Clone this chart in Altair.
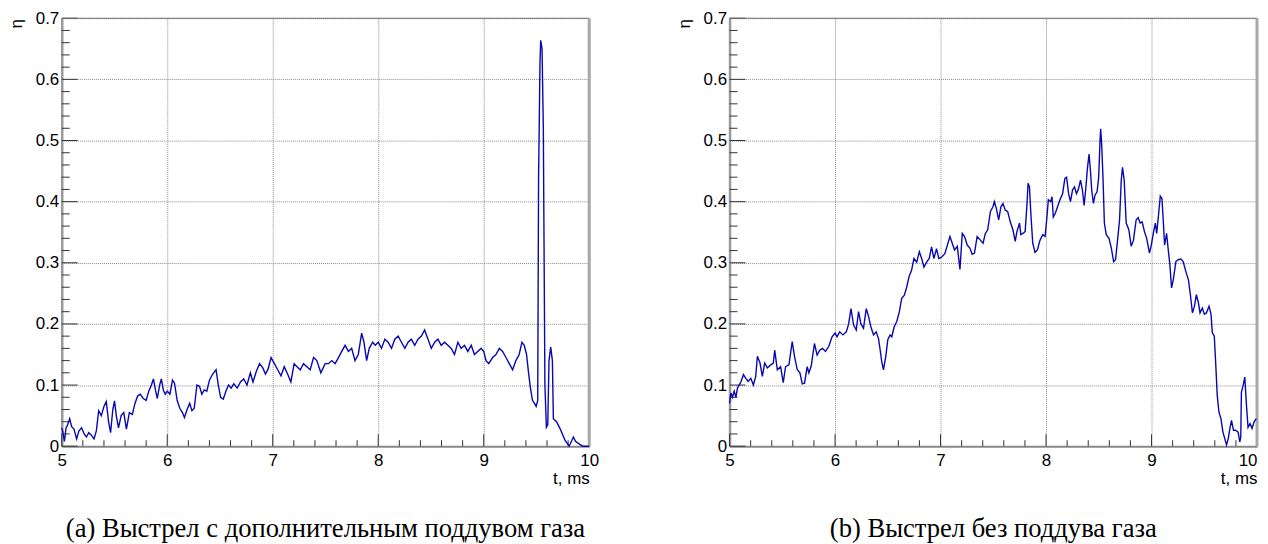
import altair as alt
import pandas as pd

# ---- data ----
# (a) shot with additional gas puff
t_a = [5.000, 5.009, 5.025, 5.041, 5.056, 5.075, 5.094, 5.116, 5.141, 5.163,
       5.188, 5.213, 5.234, 5.256, 5.281, 5.306, 5.328, 5.350, 5.375, 5.400,
       5.422, 5.444, 5.463, 5.484, 5.500, 5.519, 5.538, 5.563, 5.588, 5.613,
       5.641, 5.669, 5.694, 5.719, 5.744, 5.772, 5.800, 5.825, 5.850, 5.869,
       5.888, 5.906, 5.928, 5.944, 5.963, 5.981, 6.000, 6.025, 6.050, 6.069,
       6.094, 6.119, 6.144, 6.163, 6.188, 6.213, 6.234, 6.256, 6.281, 6.306,
       6.328, 6.350, 6.375, 6.400, 6.431, 6.463, 6.484, 6.506, 6.531, 6.556,
       6.581, 6.606, 6.631, 6.663, 6.694, 6.725, 6.756, 6.788, 6.813, 6.844,
       6.875, 6.906, 6.931, 6.956, 6.984, 7.016, 7.047, 7.078, 7.109, 7.141,
       7.172, 7.203, 7.230, 7.261, 7.292, 7.324, 7.355, 7.387, 7.418, 7.456,
       7.497, 7.528, 7.560, 7.591, 7.623, 7.654, 7.686, 7.717, 7.748, 7.780,
       7.811, 7.843, 7.865, 7.890, 7.915, 7.947, 7.972, 8.000, 8.031, 8.063,
       8.094, 8.126, 8.157, 8.189, 8.220, 8.252, 8.283, 8.314, 8.346, 8.377,
       8.409, 8.440, 8.472, 8.503, 8.535, 8.566, 8.597, 8.629, 8.660, 8.692,
       8.723, 8.755, 8.786, 8.818, 8.849, 8.881, 8.912, 8.943, 8.975, 9.000,
       9.022, 9.047, 9.085, 9.116, 9.148, 9.179, 9.211, 9.242, 9.274, 9.305,
       9.336, 9.362, 9.384, 9.406, 9.425, 9.443, 9.462, 9.481, 9.497, 9.512,
       9.520, 9.527, 9.533, 9.540, 9.547, 9.553, 9.558, 9.565, 9.580, 9.594,
       9.607, 9.619, 9.635, 9.651, 9.660, 9.690, 9.720, 9.770, 9.810, 9.850,
       9.870, 9.910, 9.940, 10.000]
eta_a = [0.030, 0.025, 0.008, 0.030, 0.035, 0.045, 0.032, 0.028, 0.012, 0.025,
         0.030, 0.020, 0.015, 0.022, 0.018, 0.012, 0.025, 0.058, 0.050, 0.065,
         0.073, 0.040, 0.022, 0.060, 0.074, 0.048, 0.030, 0.050, 0.055, 0.028,
         0.055, 0.052, 0.070, 0.082, 0.085, 0.078, 0.075, 0.090, 0.100, 0.110,
         0.092, 0.078, 0.100, 0.110, 0.092, 0.085, 0.090, 0.085, 0.108, 0.103,
         0.075, 0.062, 0.055, 0.047, 0.060, 0.070, 0.058, 0.062, 0.100, 0.098,
         0.085, 0.092, 0.090, 0.108, 0.118, 0.125, 0.100, 0.080, 0.077, 0.090,
         0.100, 0.095, 0.102, 0.095, 0.105, 0.110, 0.100, 0.120, 0.105, 0.122,
         0.135, 0.128, 0.118, 0.126, 0.145, 0.135, 0.125, 0.115, 0.130, 0.118,
         0.105, 0.135, 0.130, 0.125, 0.135, 0.130, 0.125, 0.145, 0.140, 0.120,
         0.135, 0.135, 0.140, 0.135, 0.145, 0.155, 0.165, 0.155, 0.160, 0.140,
         0.150, 0.185, 0.170, 0.140, 0.160, 0.170, 0.165, 0.170, 0.160, 0.175,
         0.170, 0.160, 0.175, 0.180, 0.170, 0.160, 0.170, 0.175, 0.165, 0.175,
         0.180, 0.190, 0.175, 0.160, 0.170, 0.175, 0.165, 0.170, 0.165, 0.160,
         0.150, 0.170, 0.160, 0.165, 0.155, 0.165, 0.150, 0.155, 0.160, 0.155,
         0.140, 0.135, 0.145, 0.150, 0.160, 0.155, 0.145, 0.135, 0.125, 0.140,
         0.150, 0.170, 0.165, 0.150, 0.120, 0.095, 0.075, 0.070, 0.065, 0.075,
         0.440, 0.535, 0.625, 0.664, 0.657, 0.650, 0.596, 0.520, 0.100, 0.031,
         0.035, 0.140, 0.162, 0.140, 0.045, 0.040, 0.030, 0.010, 0.000, 0.015,
         0.008, 0.003, 0.000, 0.000]

# (b) shot without gas puff
t_b = [5.000, 5.013, 5.028, 5.044, 5.060, 5.075, 5.107, 5.132, 5.154, 5.176,
       5.201, 5.226, 5.248, 5.264, 5.289, 5.311, 5.333, 5.358, 5.390, 5.415,
       5.428, 5.453, 5.484, 5.509, 5.531, 5.563, 5.594, 5.616, 5.642, 5.667,
       5.689, 5.711, 5.736, 5.752, 5.774, 5.805, 5.830, 5.855, 5.881, 5.909,
       5.940, 5.972, 6.000, 6.019, 6.044, 6.075, 6.107, 6.129, 6.151, 6.176,
       6.201, 6.223, 6.245, 6.270, 6.296, 6.318, 6.340, 6.365, 6.390, 6.412,
       6.428, 6.443, 6.459, 6.481, 6.500, 6.522, 6.538, 6.560, 6.585, 6.610,
       6.632, 6.657, 6.679, 6.701, 6.726, 6.748, 6.774, 6.799, 6.821, 6.843,
       6.868, 6.893, 6.915, 6.937, 6.962, 6.984, 7.009, 7.041, 7.089, 7.111,
       7.133, 7.159, 7.184, 7.206, 7.228, 7.253, 7.278, 7.300, 7.322, 7.347,
       7.378, 7.403, 7.425, 7.447, 7.473, 7.498, 7.510, 7.529, 7.551, 7.573,
       7.592, 7.614, 7.636, 7.661, 7.686, 7.708, 7.724, 7.749, 7.761, 7.780,
       7.802, 7.818, 7.830, 7.843, 7.856, 7.874, 7.896, 7.918, 7.943, 7.969,
       7.991, 8.006, 8.022, 8.044, 8.057, 8.069, 8.088, 8.110, 8.132, 8.157,
       8.179, 8.195, 8.214, 8.232, 8.251, 8.270, 8.289, 8.308, 8.327, 8.345,
       8.361, 8.377, 8.392, 8.408, 8.421, 8.433, 8.449, 8.465, 8.484, 8.499,
       8.512, 8.518, 8.527, 8.540, 8.553, 8.571, 8.597, 8.619, 8.641, 8.659,
       8.678, 8.697, 8.713, 8.725, 8.741, 8.760, 8.785, 8.807, 8.829, 8.854,
       8.873, 8.892, 8.911, 8.933, 8.954, 8.980, 8.998, 9.017, 9.036, 9.049,
       9.068, 9.083, 9.099, 9.111, 9.124, 9.143, 9.155, 9.174, 9.190, 9.206,
       9.231, 9.253, 9.278, 9.300, 9.325, 9.350, 9.366, 9.388, 9.407, 9.425,
       9.444, 9.460, 9.482, 9.501, 9.520, 9.545, 9.564, 9.576, 9.595, 9.608,
       9.623, 9.639, 9.658, 9.677, 9.695, 9.711, 9.727, 9.743, 9.758, 9.777,
       9.796, 9.821, 9.837, 9.846, 9.852, 9.868, 9.884, 9.900, 9.915, 9.934,
       9.953, 9.972, 9.994]
eta_b = [0.070, 0.087, 0.080, 0.090, 0.080, 0.095, 0.105, 0.117, 0.111, 0.106,
         0.111, 0.100, 0.114, 0.147, 0.136, 0.114, 0.136, 0.128, 0.133, 0.136,
         0.157, 0.125, 0.130, 0.104, 0.130, 0.133, 0.171, 0.147, 0.125, 0.120,
         0.102, 0.103, 0.130, 0.120, 0.131, 0.168, 0.149, 0.157, 0.160, 0.155,
         0.163, 0.179, 0.185, 0.179, 0.187, 0.182, 0.187, 0.200, 0.225, 0.198,
         0.190, 0.220, 0.200, 0.193, 0.225, 0.212, 0.195, 0.182, 0.187, 0.176,
         0.157, 0.138, 0.125, 0.147, 0.174, 0.182, 0.179, 0.195, 0.204, 0.220,
         0.242, 0.247, 0.260, 0.277, 0.288, 0.307, 0.301, 0.318, 0.307, 0.293,
         0.301, 0.307, 0.326, 0.307, 0.323, 0.307, 0.309, 0.315, 0.343, 0.332,
         0.321, 0.327, 0.289, 0.348, 0.343, 0.329, 0.324, 0.314, 0.316, 0.343,
         0.337, 0.332, 0.348, 0.354, 0.384, 0.392, 0.400, 0.389, 0.370, 0.392,
         0.397, 0.386, 0.384, 0.367, 0.354, 0.335, 0.351, 0.365, 0.346, 0.348,
         0.351, 0.392, 0.430, 0.424, 0.381, 0.332, 0.317, 0.321, 0.337, 0.346,
         0.343, 0.370, 0.403, 0.400, 0.408, 0.375, 0.381, 0.392, 0.403, 0.413,
         0.438, 0.440, 0.413, 0.400, 0.419, 0.424, 0.413, 0.421, 0.435, 0.419,
         0.394, 0.421, 0.454, 0.478, 0.451, 0.419, 0.397, 0.411, 0.416, 0.440,
         0.500, 0.519, 0.495, 0.440, 0.365, 0.346, 0.340, 0.324, 0.302, 0.305,
         0.337, 0.370, 0.435, 0.456, 0.435, 0.365, 0.354, 0.327, 0.337, 0.370,
         0.374, 0.365, 0.367, 0.351, 0.340, 0.316, 0.329, 0.348, 0.365, 0.348,
         0.381, 0.409, 0.405, 0.370, 0.329, 0.348, 0.327, 0.297, 0.259, 0.272,
         0.302, 0.305, 0.306, 0.302, 0.286, 0.272, 0.251, 0.218, 0.229, 0.248,
         0.235, 0.218, 0.226, 0.216, 0.218, 0.229, 0.216, 0.186, 0.180, 0.137,
         0.083, 0.056, 0.045, 0.023, 0.012, 0.002, 0.012, 0.029, 0.042, 0.026,
         0.026, 0.023, 0.007, 0.015, 0.088, 0.099, 0.113, 0.067, 0.031, 0.037,
         0.029, 0.040, 0.045]

captions = ["(a) Выстрел с дополнительным поддувом газа",
            "(b) Выстрел без поддува газа"]

x_major = [5, 6, 7, 8, 9, 10]
y_major = [0, 0.1, 0.2, 0.3, 0.4, 0.5, 0.6, 0.7]
x_minor = [round(5 + 0.2 * i, 2) for i in range(26) if i % 5 != 0]
y_minor = [round(0.02 * i, 2) for i in range(36) if i % 5 != 0]

W, H = 530, 430
FONT = "Liberation Sans"
LINE = "#0808b0"


def panel(t, eta, caption, last_panel=False):
    xs = alt.Scale(domain=[5, 10], nice=False, zero=False)
    ys = alt.Scale(domain=[0, 0.7], nice=False)
    extra = {}
    if last_panel:
        extra = dict(
            labelAlign={"condition": {"test": "datum.value == 10", "value": "right"},
                        "value": "center"},
        )
    xaxis = alt.Axis(values=x_major, format="d", grid=True, gridColor="#8a8a8a",
                     gridDash=[1, 1], gridWidth=1, ticks=False,
                     domainColor="#8a8a8a", domainWidth=2,
                     labelFont=FONT, labelFontSize=17, labelColor="black",
                     labelPadding=6, labelFlush=False, labelOverlap=False,
                     title="t, ms", titleFont=FONT, titleFontSize=17,
                     titleFontWeight="normal", titleColor="black",
                     titleX=W, titleY=37, titleAlign="right",
                     titleBaseline="alphabetic", **extra)
    yaxis = alt.Axis(values=y_major, format="~g", grid=True, gridColor="#8a8a8a",
                     gridDash=[1, 1], gridWidth=1, ticks=False,
                     domainColor="#9a9a9a", domainWidth=2.5,
                     labelFont=FONT, labelFontSize=17, labelColor="black",
                     labelPadding=3, labelFlush=False, labelOverlap=False,
                     title="η", titleFont=FONT, titleFontSize=17,
                     titleFontWeight="normal", titleColor="black",
                     titleAngle=270, titleX=-45, titleY=5, titleAlign="center",
                     titleBaseline="middle")
    df = pd.DataFrame({"t": t, "eta": eta})
    line = alt.Chart(df).mark_line(color=LINE, strokeWidth=1.4).encode(
        x=alt.X("t:Q", scale=xs, axis=xaxis),
        y=alt.Y("eta:Q", scale=ys, axis=yaxis),
    )
    xmaj = alt.Chart(pd.DataFrame({"t": x_major})).mark_rule(
        color="#333333", strokeWidth=1).encode(
        x=alt.X("t:Q", scale=xs, axis=xaxis), y=alt.value(H), y2=alt.value(H - 12))
    xmin = alt.Chart(pd.DataFrame({"t": x_minor})).mark_rule(
        color="#333333", strokeWidth=1).encode(
        x=alt.X("t:Q", scale=xs, axis=xaxis), y=alt.value(H), y2=alt.value(H - 6))
    ymaj = alt.Chart(pd.DataFrame({"eta": y_major})).mark_rule(
        color="#333333", strokeWidth=1).encode(
        y=alt.Y("eta:Q", scale=ys, axis=yaxis), x=alt.value(0), x2=alt.value(16))
    ymin = alt.Chart(pd.DataFrame({"eta": y_minor})).mark_rule(
        color="#333333", strokeWidth=1).encode(
        y=alt.Y("eta:Q", scale=ys, axis=yaxis), x=alt.value(0), x2=alt.value(8))
    top = alt.Chart(pd.DataFrame({"k": [0]})).mark_rule(
        color="#6e6e6e", strokeWidth=1).encode(
        x=alt.value(0), x2=alt.value(W), y=alt.value(0))
    right = alt.Chart(pd.DataFrame({"k": [0]})).mark_rule(
        color="#a8a8a8", strokeWidth=3).encode(
        x=alt.value(W), y=alt.value(0), y2=alt.value(H))
    return alt.layer(xmin, xmaj, ymin, ymaj, top, right, line).properties(
        width=W, height=H,
        title=alt.Title(caption, orient="bottom", anchor="middle", frame="group",
                        font="Liberation Serif", fontSize=26.7, fontWeight="normal",
                        color="black", offset=30),
    )


chart = alt.hconcat(
    panel(t_a, eta_a, captions[0]),
    panel(t_b, eta_b, captions[1], last_panel=True),
    spacing=77,
).properties(
    padding={"left": 0, "top": 0, "right": 0, "bottom": 0}
).configure_view(stroke=None)

chart.save("out.html", embed_options={"renderer": "svg", "actions": False})
